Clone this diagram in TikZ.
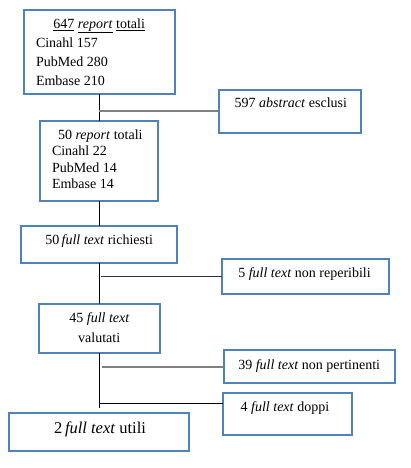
\documentclass[tikz,border=0pt]{standalone}
\usepackage{fontspec}
\setmainfont{Liberation Serif}
\definecolor{boxblue}{HTML}{4F81BD}
\definecolor{lgray}{HTML}{808080}
\begin{document}
\begin{tikzpicture}[x=1pt,y=-1pt,
  box/.style={draw=boxblue,line width=2pt,fill=white,inner sep=0pt,outer sep=0pt,rectangle},
  txt/.style={inner sep=0pt,outer sep=0pt,font=\fontsize{14}{16}\selectfont},
  bigtxt/.style={inner sep=0pt,outer sep=0pt,font=\fontsize{16.5}{19}\selectfont},
  spine/.style={draw=black,line width=1pt},
  gline/.style={draw=lgray,line width=2pt},
  dline/.style={draw=black!80,line width=1.5pt},
  bline/.style={draw=black,line width=1pt}]
\useasboundingbox (0,0) rectangle (410,468);
\fill[white] (0,0) rectangle (410,468);
% boxes
\node[box,minimum width=151pt,minimum height=84pt] (b1) at (99.5,52) {};
\node[box,minimum width=142pt,minimum height=43pt] (b597) at (290,111.5) {};
\node[box,minimum width=118pt,minimum height=80pt] (b2) at (99,161) {};
\node[box,minimum width=156pt,minimum height=37pt] (b3) at (99,244.5) {};
\node[box,minimum width=167pt,minimum height=35pt] (b5) at (305.5,276.3) {};
\node[box,minimum width=121pt,minimum height=49pt] (b4) at (99.5,328.5) {};
\node[box,minimum width=171pt,minimum height=33pt] (b39) at (309.5,366.5) {};
\node[box,minimum width=129pt,minimum height=42pt] (bd) at (287.5,414) {};
\node[box,minimum width=180pt,minimum height=38pt] (bu) at (99,432) {};
% spine coordinates
\coordinate (s1) at (99,94);
\coordinate (end) at (99,408);
\coordinate (j4) at (100,403);
% connectors
\draw[spine] (b1.south -| s1) -- (b2.north -| s1);
\draw[spine] (b2.south -| s1) -- (b3.north -| s1);
\draw[spine] (b3.south -| s1) -- (b4.north -| s1);
\draw[spine] (b4.south -| s1) -- (end);
\draw[gline] (b597.west -| s1) -- (b597.west);
\draw[dline] ([xshift=2pt]b5.west -| s1) -- (b5.west);
\draw[gline] ([xshift=3pt]b39.west -| s1) -- (b39.west);
\draw[bline] (j4) -- (j4 -| bd.west);
% texts
\node[txt,anchor=base] (t1a) at (99.2,28.3) {\underline{647} \underline{\textit{report}} \underline{totali}};
\node[txt,anchor=base west] (t1b) at (36,48) {Cinahl 157};
\node[txt,anchor=base west] (t1c) at (36,66.7) {PubMed 280};
\node[txt,anchor=base west] (t1d) at (36,86) {Embase 210};
\node[txt,anchor=base west] (t597) at (234.7,107.3) {597 \textit{abstract} esclusi};
\node[txt,anchor=base west] (t2a) at (58,139.3) {50 \textit{report} totali};
\node[txt,anchor=base west] (t2b) at (52,155.7) {Cinahl 22};
\node[txt,anchor=base west] (t2c) at (52,172.3) {PubMed 14};
\node[txt,anchor=base west] (t2d) at (52,188.7) {Embase 14};
\node[txt,anchor=base west] (t3) at (45.3,244.3) {50\,\textit{full text} richiesti};
\node[txt,anchor=base west] (t5) at (238.3,277.4) {5 \textit{full text} non reperibili};
\node[txt,anchor=base] (t4a) at (99.5,322.7) {45 \textit{full text}};
\node[txt,anchor=base] (t4b) at (99.2,342) {valutati};
\node[txt,anchor=base west] (t39) at (238.3,369.3) {39 \textit{full text} non pertinenti};
\node[txt,anchor=base west] (td) at (240.7,411) {4 \textit{full text} doppi};
\node[bigtxt,anchor=base] (tu) at (100,433.3) {2\,\textit{full text} utili};
\end{tikzpicture}
\end{document}
